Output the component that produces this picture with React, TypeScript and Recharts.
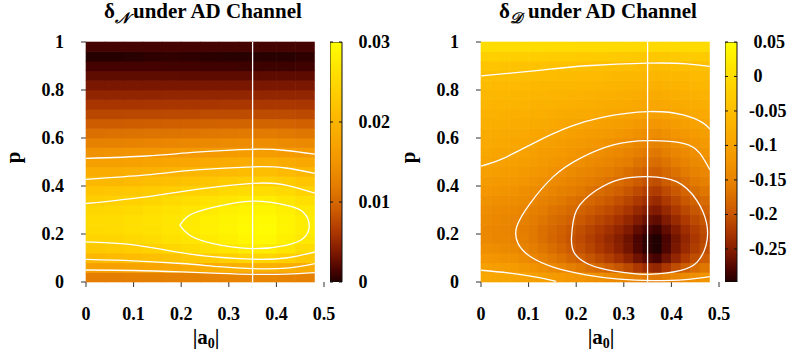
import React from 'react';
import { ScatterChart, Scatter, XAxis, YAxis, BarChart, Bar } from 'recharts';

// cell centres: p rows (bottom to top) and |a0| columns
const pRows = [0.02, 0.06, 0.1, 0.14, 0.18, 0.22, 0.26, 0.3, 0.34, 0.38, 0.42, 0.46, 0.5, 0.54, 0.58, 0.62, 0.66, 0.7, 0.74, 0.78, 0.82, 0.86, 0.9, 0.94, 0.98];
const a0ColsN = [0.02, 0.06, 0.1, 0.14, 0.18, 0.22, 0.26, 0.3, 0.34, 0.38, 0.42, 0.46];
const a0ColsD = [0.01, 0.03, 0.05, 0.07, 0.09, 0.11, 0.13, 0.15, 0.17, 0.19, 0.21, 0.23, 0.25, 0.27, 0.29, 0.31, 0.33, 0.35, 0.37, 0.39, 0.41, 0.43, 0.45, 0.47];

const a0Ticks = [0, 0.1, 0.2, 0.3, 0.4, 0.5];
const pTicks = [0, 0.2, 0.4, 0.6, 0.8, 1];
const markA0 = 0.35;

// delta_N, one row per p
const deltaN = [
  [0.0120, 0.0121, 0.0122, 0.0123, 0.0124, 0.0125, 0.0127, 0.0128, 0.0129, 0.0130, 0.0128, 0.0126],
  [0.0169, 0.0170, 0.0172, 0.0175, 0.0179, 0.0182, 0.0186, 0.0190, 0.0193, 0.0194, 0.0190, 0.0184],
  [0.0206, 0.0208, 0.0211, 0.0216, 0.0222, 0.0227, 0.0233, 0.0239, 0.0245, 0.0247, 0.0239, 0.0230],
  [0.0229, 0.0232, 0.0236, 0.0242, 0.0248, 0.0255, 0.0262, 0.0270, 0.0276, 0.0278, 0.0270, 0.0258],
  [0.0245, 0.0247, 0.0251, 0.0256, 0.0263, 0.0269, 0.0276, 0.0282, 0.0289, 0.0291, 0.0282, 0.0272],
  [0.0253, 0.0255, 0.0259, 0.0263, 0.0269, 0.0275, 0.0281, 0.0287, 0.0293, 0.0295, 0.0287, 0.0278],
  [0.0255, 0.0257, 0.0260, 0.0265, 0.0270, 0.0275, 0.0281, 0.0287, 0.0292, 0.0294, 0.0287, 0.0278],
  [0.0249, 0.0251, 0.0254, 0.0259, 0.0264, 0.0269, 0.0275, 0.0281, 0.0286, 0.0288, 0.0281, 0.0272],
  [0.0237, 0.0239, 0.0242, 0.0247, 0.0253, 0.0258, 0.0264, 0.0270, 0.0276, 0.0278, 0.0270, 0.0261],
  [0.0223, 0.0225, 0.0228, 0.0232, 0.0236, 0.0241, 0.0246, 0.0252, 0.0256, 0.0258, 0.0252, 0.0243],
  [0.0205, 0.0206, 0.0209, 0.0213, 0.0217, 0.0222, 0.0226, 0.0231, 0.0236, 0.0237, 0.0231, 0.0224],
  [0.0186, 0.0187, 0.0189, 0.0193, 0.0196, 0.0200, 0.0204, 0.0208, 0.0212, 0.0213, 0.0208, 0.0202],
  [0.0166, 0.0168, 0.0170, 0.0172, 0.0175, 0.0178, 0.0182, 0.0185, 0.0188, 0.0189, 0.0185, 0.0180],
  [0.0146, 0.0147, 0.0149, 0.0151, 0.0153, 0.0156, 0.0159, 0.0161, 0.0164, 0.0164, 0.0161, 0.0157],
  [0.0126, 0.0127, 0.0128, 0.0130, 0.0132, 0.0134, 0.0136, 0.0138, 0.0140, 0.0141, 0.0138, 0.0135],
  [0.0108, 0.0109, 0.0110, 0.0111, 0.0112, 0.0113, 0.0115, 0.0116, 0.0117, 0.0118, 0.0116, 0.0114],
  [0.0090, 0.0090, 0.0091, 0.0092, 0.0093, 0.0094, 0.0095, 0.0096, 0.0097, 0.0097, 0.0096, 0.0094],
  [0.0074, 0.0074, 0.0075, 0.0075, 0.0076, 0.0076, 0.0077, 0.0077, 0.0078, 0.0078, 0.0077, 0.0076],
  [0.0060, 0.0060, 0.0060, 0.0061, 0.0061, 0.0061, 0.0061, 0.0062, 0.0062, 0.0062, 0.0062, 0.0061],
  [0.0047, 0.0047, 0.0047, 0.0047, 0.0048, 0.0048, 0.0048, 0.0048, 0.0048, 0.0048, 0.0048, 0.0048],
  [0.0035, 0.0035, 0.0035, 0.0035, 0.0035, 0.0035, 0.0035, 0.0035, 0.0035, 0.0035, 0.0035, 0.0035],
  [0.0024, 0.0024, 0.0024, 0.0024, 0.0024, 0.0023, 0.0023, 0.0023, 0.0023, 0.0023, 0.0023, 0.0023],
  [0.0013, 0.0013, 0.0013, 0.0013, 0.0012, 0.0012, 0.0011, 0.0011, 0.0010, 0.0010, 0.0010, 0.0011],
  [0.0002, 0.0002, 0.0003, 0.0005, 0.0006, 0.0005, 0.0004, 0.0003, 0.0003, 0.0003, 0.0003, 0.0005],
  [0.0013, 0.0013, 0.0013, 0.0013, 0.0013, 0.0013, 0.0013, 0.0013, 0.0013, 0.0013, 0.0013, 0.0013],
];

// delta_D, one row per p
const deltaD = [
  [-0.093, -0.094, -0.095, -0.097, -0.100, -0.104, -0.107, -0.112, -0.115, -0.120, -0.123, -0.128, -0.132, -0.137, -0.142, -0.148, -0.155, -0.161, -0.164, -0.155, -0.146, -0.138, -0.131, -0.125],
  [-0.103, -0.106, -0.108, -0.111, -0.118, -0.125, -0.132, -0.140, -0.147, -0.156, -0.163, -0.172, -0.180, -0.189, -0.199, -0.210, -0.224, -0.236, -0.241, -0.224, -0.207, -0.192, -0.177, -0.166],
  [-0.120, -0.123, -0.126, -0.129, -0.136, -0.145, -0.153, -0.163, -0.171, -0.182, -0.190, -0.200, -0.210, -0.220, -0.232, -0.245, -0.262, -0.275, -0.282, -0.262, -0.242, -0.223, -0.207, -0.193],
  [-0.132, -0.135, -0.138, -0.141, -0.149, -0.158, -0.166, -0.176, -0.185, -0.195, -0.204, -0.214, -0.225, -0.235, -0.247, -0.261, -0.278, -0.292, -0.299, -0.278, -0.257, -0.238, -0.221, -0.207],
  [-0.140, -0.143, -0.145, -0.149, -0.156, -0.164, -0.173, -0.183, -0.191, -0.201, -0.209, -0.219, -0.229, -0.239, -0.250, -0.263, -0.280, -0.293, -0.298, -0.280, -0.260, -0.242, -0.226, -0.212],
  [-0.142, -0.145, -0.147, -0.150, -0.157, -0.164, -0.172, -0.181, -0.188, -0.197, -0.205, -0.214, -0.223, -0.232, -0.242, -0.254, -0.269, -0.281, -0.287, -0.269, -0.251, -0.235, -0.220, -0.208],
  [-0.139, -0.142, -0.144, -0.147, -0.153, -0.160, -0.166, -0.175, -0.181, -0.189, -0.196, -0.204, -0.212, -0.220, -0.230, -0.241, -0.254, -0.265, -0.270, -0.254, -0.238, -0.223, -0.210, -0.199],
  [-0.135, -0.138, -0.140, -0.142, -0.147, -0.154, -0.160, -0.167, -0.173, -0.180, -0.187, -0.194, -0.201, -0.208, -0.217, -0.227, -0.239, -0.249, -0.254, -0.239, -0.224, -0.211, -0.199, -0.189],
  [-0.128, -0.130, -0.132, -0.134, -0.139, -0.145, -0.151, -0.158, -0.163, -0.170, -0.176, -0.182, -0.189, -0.196, -0.204, -0.213, -0.224, -0.233, -0.238, -0.224, -0.211, -0.198, -0.187, -0.178],
  [-0.120, -0.122, -0.124, -0.126, -0.131, -0.136, -0.141, -0.147, -0.153, -0.159, -0.164, -0.171, -0.177, -0.183, -0.190, -0.199, -0.209, -0.218, -0.222, -0.209, -0.197, -0.185, -0.175, -0.166],
  [-0.112, -0.114, -0.115, -0.117, -0.122, -0.127, -0.131, -0.137, -0.142, -0.148, -0.153, -0.159, -0.164, -0.170, -0.177, -0.185, -0.194, -0.202, -0.206, -0.194, -0.183, -0.172, -0.162, -0.155],
  [-0.105, -0.107, -0.108, -0.110, -0.114, -0.118, -0.123, -0.128, -0.133, -0.138, -0.143, -0.148, -0.154, -0.159, -0.165, -0.172, -0.181, -0.189, -0.192, -0.181, -0.171, -0.161, -0.152, -0.145],
  [-0.098, -0.100, -0.101, -0.102, -0.106, -0.110, -0.114, -0.119, -0.123, -0.128, -0.132, -0.137, -0.142, -0.147, -0.153, -0.159, -0.168, -0.174, -0.177, -0.168, -0.158, -0.149, -0.141, -0.134],
  [-0.093, -0.094, -0.095, -0.097, -0.100, -0.104, -0.108, -0.112, -0.116, -0.120, -0.124, -0.128, -0.133, -0.137, -0.142, -0.148, -0.156, -0.162, -0.165, -0.156, -0.147, -0.139, -0.131, -0.125],
  [-0.088, -0.089, -0.090, -0.091, -0.094, -0.097, -0.101, -0.105, -0.108, -0.112, -0.115, -0.119, -0.123, -0.127, -0.131, -0.136, -0.143, -0.148, -0.151, -0.143, -0.135, -0.128, -0.122, -0.116],
  [-0.083, -0.084, -0.085, -0.086, -0.088, -0.091, -0.094, -0.097, -0.100, -0.103, -0.106, -0.109, -0.112, -0.116, -0.119, -0.124, -0.129, -0.134, -0.136, -0.129, -0.123, -0.117, -0.111, -0.107],
  [-0.077, -0.078, -0.079, -0.080, -0.082, -0.084, -0.086, -0.089, -0.091, -0.094, -0.096, -0.099, -0.101, -0.104, -0.107, -0.110, -0.115, -0.118, -0.120, -0.115, -0.110, -0.105, -0.100, -0.097],
  [-0.072, -0.073, -0.074, -0.074, -0.076, -0.077, -0.079, -0.081, -0.083, -0.085, -0.086, -0.088, -0.090, -0.092, -0.094, -0.097, -0.100, -0.103, -0.104, -0.100, -0.096, -0.093, -0.090, -0.087],
  [-0.066, -0.067, -0.067, -0.068, -0.069, -0.070, -0.072, -0.073, -0.075, -0.076, -0.078, -0.079, -0.081, -0.083, -0.084, -0.087, -0.089, -0.091, -0.093, -0.089, -0.086, -0.083, -0.080, -0.078],
  [-0.061, -0.062, -0.062, -0.063, -0.064, -0.065, -0.066, -0.067, -0.068, -0.070, -0.071, -0.072, -0.074, -0.075, -0.077, -0.079, -0.081, -0.083, -0.084, -0.081, -0.078, -0.076, -0.073, -0.071],
  [-0.055, -0.056, -0.056, -0.056, -0.057, -0.058, -0.059, -0.060, -0.061, -0.062, -0.063, -0.064, -0.066, -0.067, -0.068, -0.069, -0.071, -0.073, -0.074, -0.071, -0.069, -0.067, -0.065, -0.064],
  [-0.049, -0.050, -0.050, -0.050, -0.051, -0.051, -0.052, -0.053, -0.054, -0.055, -0.056, -0.056, -0.057, -0.058, -0.059, -0.060, -0.062, -0.063, -0.064, -0.062, -0.060, -0.059, -0.057, -0.056],
  [-0.040, -0.040, -0.041, -0.041, -0.042, -0.042, -0.043, -0.044, -0.045, -0.045, -0.046, -0.047, -0.048, -0.049, -0.050, -0.051, -0.052, -0.053, -0.054, -0.052, -0.050, -0.049, -0.047, -0.046],
  [-0.022, -0.022, -0.023, -0.023, -0.023, -0.024, -0.025, -0.026, -0.026, -0.027, -0.028, -0.028, -0.029, -0.030, -0.031, -0.032, -0.033, -0.034, -0.035, -0.033, -0.032, -0.030, -0.029, -0.028],
  [0.000, 0.000, 0.000, 0.000, -0.001, -0.001, -0.001, -0.002, -0.002, -0.002, -0.003, -0.003, -0.003, -0.004, -0.004, -0.005, -0.005, -0.006, -0.006, -0.005, -0.004, -0.004, -0.003, -0.003],
];

// contour lines, [|a0|, p]
const nUpper1 = [[0, 0.515], [0.127, 0.525], [0.232, 0.541], [0.35, 0.553], [0.42, 0.548], [0.481, 0.533]];
const nUpper2 = [[0, 0.428], [0.127, 0.446], [0.232, 0.467], [0.35, 0.48], [0.42, 0.475], [0.481, 0.453]];
const nUpper3 = [[0, 0.327], [0.127, 0.355], [0.232, 0.386], [0.35, 0.411], [0.42, 0.404], [0.481, 0.37]];
const nPeak = [[0.197, 0.237], [0.218, 0.279], [0.267, 0.311], [0.35, 0.337], [0.42, 0.32], [0.456, 0.292], [0.469, 0.233], [0.456, 0.181], [0.42, 0.153], [0.35, 0.139], [0.267, 0.16], [0.218, 0.195], [0.197, 0.237]];
const nLower3 = [[0, 0.167], [0.1, 0.155], [0.2, 0.122], [0.27, 0.105], [0.35, 0.095], [0.42, 0.1], [0.481, 0.125]];
const nLower2 = [[0, 0.094], [0.1, 0.088], [0.2, 0.077], [0.28, 0.064], [0.35, 0.056], [0.42, 0.058], [0.481, 0.077]];
const nLower1 = [[0, 0.05], [0.1, 0.048], [0.2, 0.042], [0.28, 0.036], [0.35, 0.032], [0.42, 0.033], [0.481, 0.039]];

const dLineA = [[0, 0.859], [0.117, 0.881], [0.222, 0.901], [0.351, 0.912], [0.432, 0.909], [0.481, 0.898]];
const dLineB = [[0, 0.483], [0.047, 0.515], [0.117, 0.585], [0.187, 0.647], [0.257, 0.687], [0.351, 0.71], [0.425, 0.696], [0.467, 0.662], [0.481, 0.637]];
const dLineC = [[0.481, 0.467], [0.46, 0.536], [0.425, 0.578], [0.351, 0.589], [0.278, 0.571], [0.208, 0.515], [0.152, 0.439], [0.103, 0.327], [0.075, 0.23], [0.078, 0.16], [0.105, 0.104], [0.155, 0.06], [0.22, 0.03], [0.29, 0.012], [0.36, 0.006], [0.43, 0.01], [0.481, 0.022]];
const dLineD = [[0.19, 0.181], [0.201, 0.3], [0.243, 0.383], [0.292, 0.428], [0.351, 0.439], [0.411, 0.418], [0.453, 0.341], [0.474, 0.244], [0.473, 0.155], [0.455, 0.085], [0.42, 0.048], [0.351, 0.032], [0.28, 0.045], [0.225, 0.075], [0.195, 0.125], [0.19, 0.181]];
const dLineE = [[0, 0.049], [0.057, 0.038], [0.113, 0.021], [0.158, 0.003]];

const cbTicksN = [0, 0.01, 0.02, 0.03];
const cbTicksD = [0.05, 0, -0.05, -0.1, -0.15, -0.2, -0.25];

// palette (bottom -> top of colour bar)
const paletteStops: [number, string][] = [
  [0, '#200000'],
  [0.05, '#4a0300'],
  [0.12, '#7c1800'],
  [0.2, '#a83400'],
  [0.3, '#cd5c00'],
  [0.4, '#e47d00'],
  [0.5, '#f29400'],
  [0.6, '#f9a800'],
  [0.7, '#fdbb00'],
  [0.8, '#ffd000'],
  [0.9, '#ffe600'],
  [1, '#ffff00'],
];

const hex = (c: string) => [1, 3, 5].map((i) => parseInt(c.slice(i, i + 2), 16));

function paletteColor(t: number) {
  const u = Math.max(0, Math.min(1, t));
  for (let i = 1; i < paletteStops.length; i++) {
    const [t1, c1] = paletteStops[i];
    if (u <= t1) {
      const [t0, c0] = paletteStops[i - 1];
      const k = (u - t0) / (t1 - t0);
      const a = hex(c0);
      const b = hex(c1);
      const rgb = a.map((v, j) => Math.round(v + (b[j] - v) * k));
      return `rgb(${rgb.join(',')})`;
    }
  }
  return paletteStops[paletteStops.length - 1][1];
}

const FONT = "'Liberation Serif', 'Times New Roman', serif";
const PLOT_W = 238;
const PLOT_H = 240;
const ROW_STEP = 0.04;

const toPts = (pts: number[][]) => pts.map(([x, p]) => ({ x, p }));
const markLine = [{ x: markA0, p: 0 }, { x: markA0, p: 1 }];

const NoDot = () => <g />;

const XTick = (props: any) => (
  <text x={props.x} y={320} textAnchor='middle' fontFamily={FONT} fontWeight='bold' fontSize={18} fill='#000'>
    {String(props.payload.value)}
  </text>
);

const YTick = (props: any) => (
  <text x={64} y={props.y + 6} textAnchor='end' fontFamily={FONT} fontWeight='bold' fontSize={18} fill='#000'>
    {String(props.payload.value)}
  </text>
);

const CbTick = (props: any) => {
  const y = props.y;
  const v = props.payload.value;
  return (
    <g>
      <line x1={0} x2={3} y1={y} y2={y} stroke='#111' />
      <line x1={9} x2={12} y1={y} y2={y} stroke='#111' />
      <text x={v < 0 ? 24 : 28.5} y={y + 6} fontFamily={FONT} fontWeight='bold' fontSize={18} fill='#000'>
        {String(v)}
      </text>
    </g>
  );
};

interface PanelProps {
  left: number;
  cols: number[];
  colStep: number;
  grid: number[][];
  lo: number;
  hi: number;
  contours: number[][][];
  cbTicks: number[];
  gradId: string;
}

const Panel: React.FC<PanelProps> = ({ left, cols, colStep, grid, lo, hi, contours, cbTicks, gradId }) => {
  const cells = grid.flatMap((row, i) => row.map((v, j) => ({ x: cols[j], p: pRows[i], v })));
  const w = (colStep / 0.5) * PLOT_W + 0.6;
  const h = ROW_STEP * PLOT_H + 0.6;
  const HeatCell = (props: any) => (
    <rect
      x={props.cx - w / 2}
      y={props.cy - h / 2}
      width={w}
      height={h}
      fill={paletteColor((props.payload.v - lo) / (hi - lo))}
    />
  );
  const barData = [{ k: 'cb', range: [lo, hi] }];
  return (
    <>
      <div style={{ position: 'absolute', left, top: 0 }}>
        <ScatterChart width={395} height={360} margin={{ top: 42, right: 71, bottom: 48, left: 26 }}>
          <XAxis
            type='number'
            dataKey='x'
            domain={[0, 0.5]}
            ticks={a0Ticks}
            interval={0}
            axisLine={false}
            tickLine={{ stroke: '#333' }}
            tickSize={5}
            tick={XTick}
          />
          <YAxis
            type='number'
            dataKey='p'
            domain={[0, 1]}
            ticks={pTicks}
            interval={0}
            width={60}
            axisLine={false}
            tickLine={{ stroke: '#333' }}
            tickSize={5}
            tick={YTick}
          />
          <Scatter data={cells} shape={HeatCell} isAnimationActive={false} />
          {contours.map((c, i) => (
            <Scatter
              key={i}
              data={toPts(c)}
              line={{ stroke: '#ffffff', strokeWidth: 1.3, fill: 'none' }}
              lineJointType='natural'
              shape={NoDot}
              isAnimationActive={false}
            />
          ))}
          <Scatter
            data={markLine}
            line={{ stroke: '#ffffff', strokeWidth: 1.3, fill: 'none' }}
            shape={NoDot}
            isAnimationActive={false}
          />
        </ScatterChart>
      </div>
      <div style={{ position: 'absolute', left: left + 330, top: 0 }}>
        <BarChart
          width={70}
          height={360}
          data={barData}
          barCategoryGap={0}
          margin={{ top: 42, right: 0, bottom: 78, left: 0 }}
        >
          <defs>
            <linearGradient id={gradId} x1='0' y1='1' x2='0' y2='0'>
              {paletteStops.map(([t, c]) => (
                <stop key={t} offset={t} stopColor={c} />
              ))}
            </linearGradient>
          </defs>
          <XAxis dataKey='k' hide />
          <YAxis
            type='number'
            orientation='right'
            domain={[lo, hi]}
            ticks={cbTicks}
            interval={0}
            width={58}
            axisLine={false}
            tickLine={false}
            tickSize={0}
            tickMargin={0}
            tick={CbTick}
            allowDataOverflow
          />
          <Bar dataKey='range' fill={`url(#${gradId})`} stroke='#111' strokeWidth={1} isAnimationActive={false} />
        </BarChart>
      </div>
    </>
  );
};

const Labels = ({ left, sub }: { left: number; sub: string }) => (
  <g fontFamily={FONT} fontWeight='bold' fill='#000'>
    <text x={left + 104} y={18} fontSize={21}>
      δ
      <tspan fontSize={15} dy={5} fontStyle='italic'>
        {sub}
      </tspan>
      <tspan x={left + 133} dy={-5}>
        under AD Channel
      </tspan>
    </text>
    <text transform={`translate(${left + 20},157.5) rotate(-90)`} textAnchor='middle' fontSize={21}>
      p
    </text>
    <text x={left + 206} y={344} textAnchor='middle' fontSize={21}>
      |a
      <tspan fontSize={14} dy={4}>
        0
      </tspan>
      <tspan dy={-4}>|</tspan>
    </text>
  </g>
);

export default function App() {
  return (
    <div style={{ position: 'absolute', left: 0, top: 0, width: 790, height: 360, background: '#fff', overflow: 'hidden' }}>
      <Panel
        left={0}
        cols={a0ColsN}
        colStep={0.04}
        grid={deltaN}
        lo={0}
        hi={0.03}
        contours={[nUpper1, nUpper2, nUpper3, nPeak, nLower3, nLower2, nLower1]}
        cbTicks={cbTicksN}
        gradId='cbN'
      />
      <Panel
        left={395}
        cols={a0ColsD}
        colStep={0.02}
        grid={deltaD}
        lo={-0.298}
        hi={0.05}
        contours={[dLineA, dLineB, dLineC, dLineD, dLineE]}
        cbTicks={cbTicksD}
        gradId='cbD'
      />
      <svg width={790} height={360} style={{ position: 'absolute', left: 0, top: 0, pointerEvents: 'none' }}>
        <Labels left={0} sub='𝒩' />
        <Labels left={395} sub='𝒟' />
      </svg>
    </div>
  );
}
